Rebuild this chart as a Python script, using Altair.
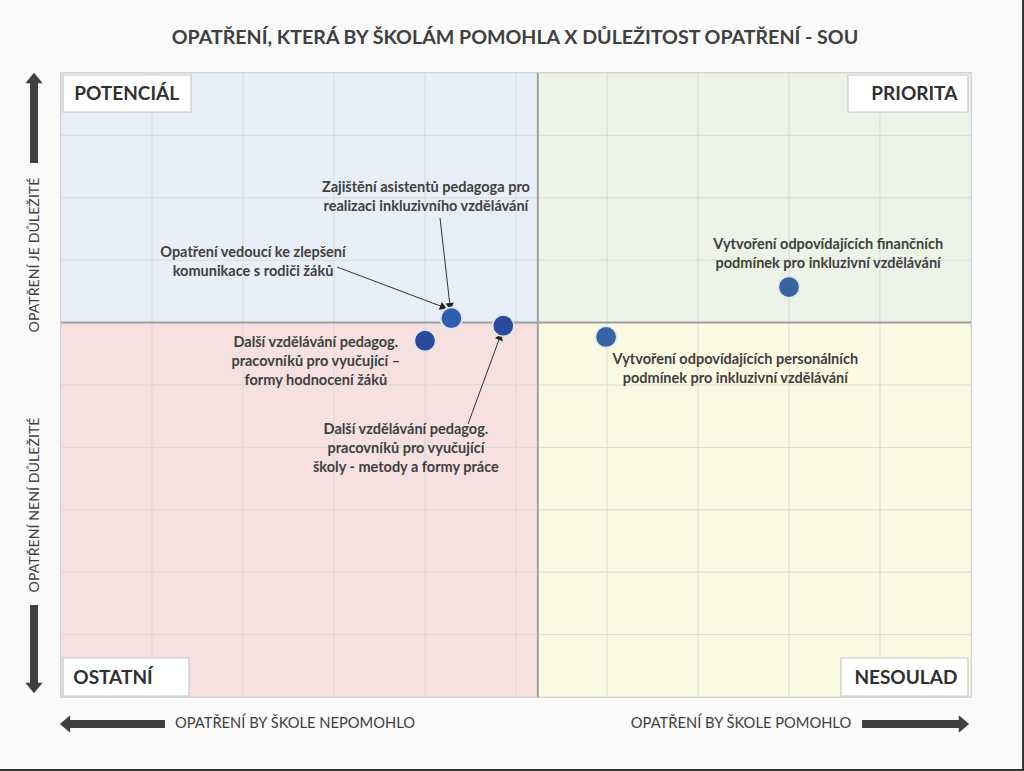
import math
import altair as alt
import pandas as pd

# ---------------- data ----------------
labels = [
    "Zajištění asistentů pedagoga pro\nrealizaci inkluzivního vzdělávání",
    "Opatření vedoucí ke zlepšení\nkomunikace s rodiči žáků",
    "Další vzdělávání pedagog.\npracovníků pro vyučující\nškoly - metody a formy práce",
    "Další vzdělávání pedagog.\npracovníků pro vyučující –\nformy hodnocení žáků",
    "Vytvoření odpovídajících personálních\npodmínek pro inkluzivní vzdělávání",
    "Vytvoření odpovídajících finančních\npodmínek pro inkluzivní vzdělávání",
]
helped = [42.9, 42.9, 48.6, 40.0, 59.9, 80.0]        # x: opatření by škole pomohlo
importance = [60.7, 60.7, 59.5, 57.1, 57.7, 65.7]    # y: důležitost opatření
point_colors = ["#2f5db0", "#2f5db0", "#2b4a9c", "#2b4a9c", "#3a64a1", "#3a64a1"]

# label anchor (centre of first text line) in data units
label_x = [40.1, 21.1, 37.9, 28.0, 74.1, 84.3]
label_y = [81.6, 71.2, 42.8, 56.7, 54.0, 72.4]

# leader arrows: start (near label) -> end (at point)
arrow_x1 = [41.65, 30.33, 44.73]
arrow_y1 = [76.76, 68.91, 43.75]
arrow_x2 = [42.75, 41.98, 48.24]
arrow_y2 = [62.66, 62.50, 57.69]

x_mid = 52.4
y_mid = 60.0
grid_ticks = [0, 10, 20, 30, 40, 50, 60, 70, 80, 90, 100]

quad_names = ["POTENCIÁL", "PRIORITA", "OSTATNÍ", "NESOULAD"]
quad_colors = ["#e9eff8", "#eef3e8", "#f6e0e0", "#fbfae2"]

title_text = "OPATŘENÍ, KTERÁ BY ŠKOLÁM POMOHLA X DŮLEŽITOST OPATŘENÍ - SOU"

# ---------------- layout ----------------
W, H = 910, 624
PX = W / 100.0
PY = H / 100.0
FONT = "Lato"
TXT = "#404040"

xs = alt.Scale(domain=[0, 100], nice=False, zero=False)
ys = alt.Scale(domain=[0, 100], nice=False, zero=False)

def X(f):
    return alt.X(f, type="quantitative", scale=xs, axis=None)

def Y(f):
    return alt.Y(f, type="quantitative", scale=ys, axis=None)

# quadrant backgrounds
quad_df = pd.DataFrame({
    "x": [0, x_mid, 0, x_mid], "x2": [x_mid, 100, x_mid, 100],
    "y": [y_mid, y_mid, 0, 0], "y2": [100, 100, y_mid, y_mid],
    "c": quad_colors,
})
bg = alt.Chart(quad_df).mark_rect().encode(
    x=X("x"), x2="x2", y=Y("y"), y2="y2", color=alt.Color("c:N", scale=None))

grid_df = pd.DataFrame({"t": grid_ticks})
vgrid = alt.Chart(grid_df).mark_rule(color="#d9d9d9", strokeWidth=1).encode(
    x=X("t"), y=alt.value(0), y2=alt.value(H))
hgrid = alt.Chart(grid_df).mark_rule(color="#d9d9d9", strokeWidth=1).encode(
    y=Y("t"), x=alt.value(0), x2=alt.value(W))

mid_v = alt.Chart(pd.DataFrame({"t": [x_mid]})).mark_rule(color="#a0a0a0", strokeWidth=2).encode(
    x=X("t"), y=alt.value(0), y2=alt.value(H))
mid_h = alt.Chart(pd.DataFrame({"t": [y_mid]})).mark_rule(color="#a0a0a0", strokeWidth=2).encode(
    y=Y("t"), x=alt.value(0), x2=alt.value(W))

# leader arrows
angles = []
for a, b, c, d in zip(arrow_x1, arrow_y1, arrow_x2, arrow_y2):
    dx = (c - a) * PX
    dys = -(d - b) * PY
    angles.append(math.degrees(math.atan2(dx, -dys)) % 360)
arr_df = pd.DataFrame({"x1": arrow_x1, "y1": arrow_y1, "x2": arrow_x2, "y2": arrow_y2, "ang": angles})
lead = alt.Chart(arr_df).mark_rule(color="#333333", strokeWidth=1).encode(
    x=X("x1"), y=Y("y1"), x2="x2", y2="y2")
heads = alt.Chart(arr_df).mark_point(
    shape="M-1,0.7L0,-0.9L1,0.7Z", filled=True, size=70, color="#222222", opacity=1
).encode(x=X("x2"), y=Y("y2"), angle=alt.Angle("ang:Q", scale=None))

pts_df = pd.DataFrame({"x": helped, "y": importance, "c": point_colors})
pts = alt.Chart(pts_df).mark_circle(size=450, opacity=1, stroke="#dfe6f3", strokeWidth=1.5).encode(
    x=X("x"), y=Y("y"), color=alt.Color("c:N", scale=None))

lab_df = pd.DataFrame({"x": label_x, "y": label_y, "t": labels})
labs = alt.Chart(lab_df).mark_text(
    lineBreak="\n", align="center", baseline="middle", font=FONT, fontSize=14.5,
    fontWeight="bold", color=TXT, lineHeight=19
).encode(x=X("x"), y=Y("y"), text="t:N")

# quadrant label boxes
box_df = pd.DataFrame({
    "x": [0.22, 86.48, 0.22, 85.71], "x2": [14.29, 99.67, 14.07, 99.67],
    "y": [93.75, 93.75, 0.16, 0.16], "y2": [99.68, 99.68, 6.25, 6.25],
})
boxes = alt.Chart(box_df).mark_rect(fill="white", stroke="#c8c8c8", strokeWidth=1.2).encode(
    x=X("x"), x2="x2", y=Y("y"), y2="y2")
qt_df = pd.DataFrame({
    "x": [1.45, 98.5, 1.35, 98.5], "y": [96.7, 96.7, 3.1, 3.1],
    "t": quad_names, "a": ["left", "right", "left", "right"],
})
qtl = alt.Chart(qt_df[qt_df.a == "left"]).mark_text(
    align="left", baseline="middle", font=FONT, fontSize=19, fontWeight="bold", color="#303030"
).encode(x=X("x"), y=Y("y"), text="t:N")
qtr = alt.Chart(qt_df[qt_df.a == "right"]).mark_text(
    align="right", baseline="middle", font=FONT, fontSize=19, fontWeight="bold", color="#303030"
).encode(x=X("x"), y=Y("y"), text="t:N")

one = pd.DataFrame({"k": [0]})

def txt(t, x, y, size, weight="normal", angle=0):
    kw = dict(align="center", baseline="middle", font=FONT, fontSize=size,
              fontWeight=weight, color=TXT, text=t)
    if angle:
        kw["angle"] = angle
    return alt.Chart(one).mark_text(**kw).encode(x=alt.value(x), y=alt.value(y))

title = txt(title_text, 454, -35, 19.6, "bold")
yl1 = txt("OPATŘENÍ JE DŮLEŽITÉ", -26, 182, 14.2, angle=270)
yl2 = txt("OPATŘENÍ NENÍ DŮLEŽITÉ", -26, 432, 14.2, angle=270)
xl1 = txt("OPATŘENÍ BY ŠKOLE NEPOMOHLO", 234, 651, 14.7)
xl2 = txt("OPATŘENÍ BY ŠKOLE POMOHLO", 680, 651, 14.7)

def shaft(x, y, x2, y2):
    return alt.Chart(one).mark_rule(color="#404040", strokeWidth=8).encode(
        x=alt.value(x), y=alt.value(y), x2=alt.value(x2), y2=alt.value(y2))

def head(path, x, y):
    return alt.Chart(one).mark_point(shape=path, filled=True, size=300, color="#404040", opacity=1).encode(
        x=alt.value(x), y=alt.value(y))

big_arrows = [
    shaft(-27, 9, -27, 90), head("M-1,0.6L0,-0.6L1,0.6Z", -27, 5),
    shaft(-27, 532, -27, 611), head("M-1,-0.6L0,0.6L1,-0.6Z", -27, 615),
    shaft(8, 651, 104, 651), head("M0.6,-1L-0.6,0L0.6,1Z", 4, 651),
    shaft(801, 651, 899, 651), head("M-0.6,-1L0.6,0L-0.6,1Z", 903, 651),
]

frame_r = alt.Chart(one).mark_rule(color="#333333", strokeWidth=2).encode(
    x=alt.value(962), y=alt.value(-73), y2=alt.value(698))
frame_b = alt.Chart(one).mark_rule(color="#333333", strokeWidth=2).encode(
    x=alt.value(-61), x2=alt.value(963), y=alt.value(697))

chart = alt.layer(
    bg, vgrid, hgrid, mid_v, mid_h, lead, heads, pts, labs, boxes, qtl, qtr,
    title, yl1, yl2, xl1, xl2, *big_arrows, frame_r, frame_b
).properties(
    width=W, height=H, background="#fafafa",
    autosize=alt.AutoSizeParams(type="none"),
    padding={"left": 61, "top": 73, "right": 53, "bottom": 74},
).configure_view(stroke="#bdbdbd", strokeWidth=1.5)

chart.save("out.html", embed_options={"renderer": "svg", "actions": False})
